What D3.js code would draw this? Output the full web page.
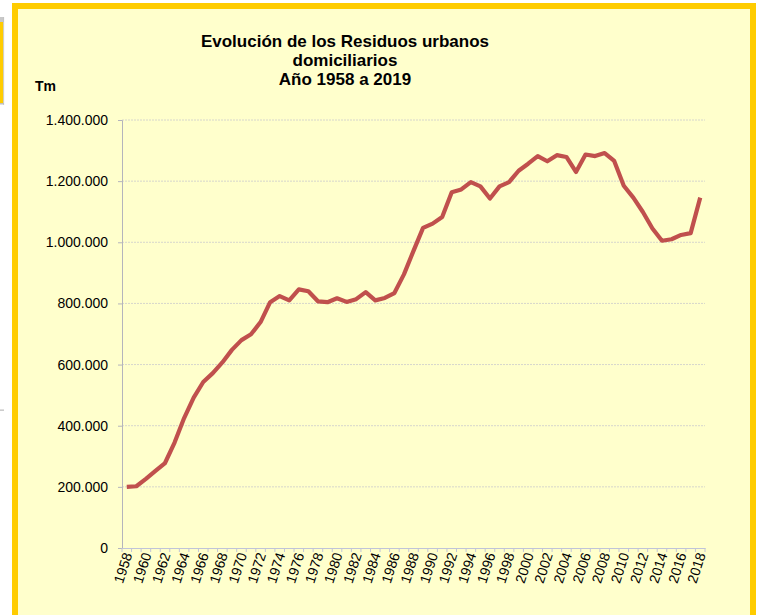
<!DOCTYPE html>
<html>
<head>
<meta charset="utf-8">
<script src="https://cdn.jsdelivr.net/npm/d3@7"></script>
<style>
body{margin:0;background:#fff;}
svg text{font-family:"Liberation Sans",Arial,sans-serif;}
</style>
</head>
<body>
<div id="chart"></div>
<script>
// años (eje de categorias)
var years = d3.range(1958, 2019).map(String);

// residuos urbanos domiciliarios, Tm
var values = [200000,202000,226000,252000,278000,345000,425000,492000,543000,572000,
  607000,648000,680000,699000,739000,804000,824000,810000,846000,840000,
  807000,804000,817000,805000,814000,837000,810000,818000,834000,895000,
  972000,1047000,1061000,1083000,1164000,1173000,1197000,1183000,1143000,1183000,
  1197000,1234000,1257000,1282000,1265000,1285000,1279000,1230000,1287000,1282000,
  1292000,1266000,1185000,1146000,1099000,1045000,1005000,1010000,1024000,1030000,
  1146000];

var yTicks = [0,200000,400000,600000,800000,1000000,1200000,1400000];
var titleLines = ["Evolución de los Residuos urbanos","domiciliarios","Año 1958 a 2019"];

var W = 760, H = 615;
var plot = {left:122, right:705, top:120, bottom:548};

var es = d3.formatLocale({decimal:",", thousands:".", grouping:[3], currency:["","€"]});
var fmt = es.format(",.0f");

var svg = d3.select("#chart").append("svg")
  .attr("width", W).attr("height", H);

// resto de otro marco a la izquierda
svg.append("rect").attr("x",0).attr("y",22).attr("width",3.3).attr("height",81).attr("fill","#FFCC00");
svg.append("rect").attr("x",0).attr("y",17).attr("width",4).attr("height",5).attr("fill","#c8c8c8");
svg.append("rect").attr("x",3.3).attr("y",17).attr("width",0.8).attr("height",88).attr("fill","#c0c0c0");
svg.append("rect").attr("x",0).attr("y",103).attr("width",4).attr("height",1.5).attr("fill","#c0c0c0");
svg.append("rect").attr("x",0).attr("y",409.5).attr("width",4).attr("height",1.3).attr("fill","#c0c0c0");

// marco amarillo
svg.append("rect")
  .attr("x",15).attr("y",6).attr("width",738).attr("height",613)
  .attr("fill","#FFFFCC").attr("stroke","#FFCC00").attr("stroke-width",6);

// titulo
svg.append("g").selectAll("text").data(titleLines).enter()
  .append("text")
  .attr("x",345)
  .attr("y",function(d,i){ return 47 + i*19; })
  .attr("text-anchor","middle")
  .attr("font-weight","bold")
  .attr("font-size","17px")
  .attr("fill","#000")
  .text(function(d){ return d; });

svg.append("text").attr("x",35).attr("y",91)
  .attr("font-weight","bold").attr("font-size","14px").text("Tm");

var xScale = d3.scaleBand()
  .domain(years)
  .range([plot.left, plot.right]);

var yScale = d3.scaleLinear()
  .domain([0,1400000])
  .range([plot.bottom, plot.top]);

// lineas de division
svg.append("g").attr("class","grid")
  .selectAll("line").data(yTicks.filter(function(d){ return d>0; })).enter()
  .append("line")
  .attr("x1",plot.left).attr("x2",plot.right)
  .attr("y1",function(d){ return yScale(d); })
  .attr("y2",function(d){ return yScale(d); })
  .attr("stroke","#d6d6cc").attr("stroke-width",1)
  .attr("stroke-dasharray","2,1");

// eje y
var yAxis = d3.axisLeft(yScale)
  .tickValues(yTicks)
  .tickSize(4)
  .tickPadding(10)
  .tickFormat(function(d){ return fmt(d); });

var gy = svg.append("g")
  .attr("transform","translate("+plot.left+",0)")
  .call(yAxis);
gy.select(".domain").attr("stroke","#b4b4bc");
gy.selectAll(".tick line").attr("stroke","#b4b4bc");
gy.selectAll("text").attr("font-size","14px").attr("fill","#000")
  .style("font-family","'Liberation Sans',Arial,sans-serif");

// eje x
var xAxis = d3.axisBottom(xScale)
  .tickValues(years.filter(function(d,i){ return i%2==0; }))
  .tickSize(0)
  .tickSizeOuter(0);

var gx = svg.append("g")
  .attr("transform","translate(0,"+plot.bottom+")")
  .call(xAxis);
gx.select(".domain").attr("stroke","#c0c4d8");
gx.selectAll("text")
  .attr("font-size","14px").attr("fill","#000")
  .style("font-family","'Liberation Sans',Arial,sans-serif")
  .style("text-anchor","end")
  .attr("x",0).attr("y",0).attr("dy",".35em")
  .attr("transform","translate(1,5) rotate(-72)");

// marcas de graduacion entre categorias
var bounds = years.map(function(d){ return xScale(d); }).concat([xScale.range()[1]]);
svg.append("g").selectAll("line").data(bounds).enter()
  .append("line")
  .attr("x1",function(d){ return d; }).attr("x2",function(d){ return d; })
  .attr("y1",plot.bottom).attr("y2",plot.bottom+4)
  .attr("stroke","#c0c4d8");

// serie
var line = d3.line()
  .x(function(d,i){ return xScale(years[i]) + xScale.bandwidth()/2; })
  .y(function(d){ return yScale(d); });

svg.append("path")
  .datum(values)
  .attr("d",line)
  .attr("fill","none")
  .attr("stroke","#C0504D")
  .attr("stroke-width",4.2)
  .attr("stroke-linejoin","round")
  .attr("stroke-linecap","butt");
</script>
</body>
</html>
